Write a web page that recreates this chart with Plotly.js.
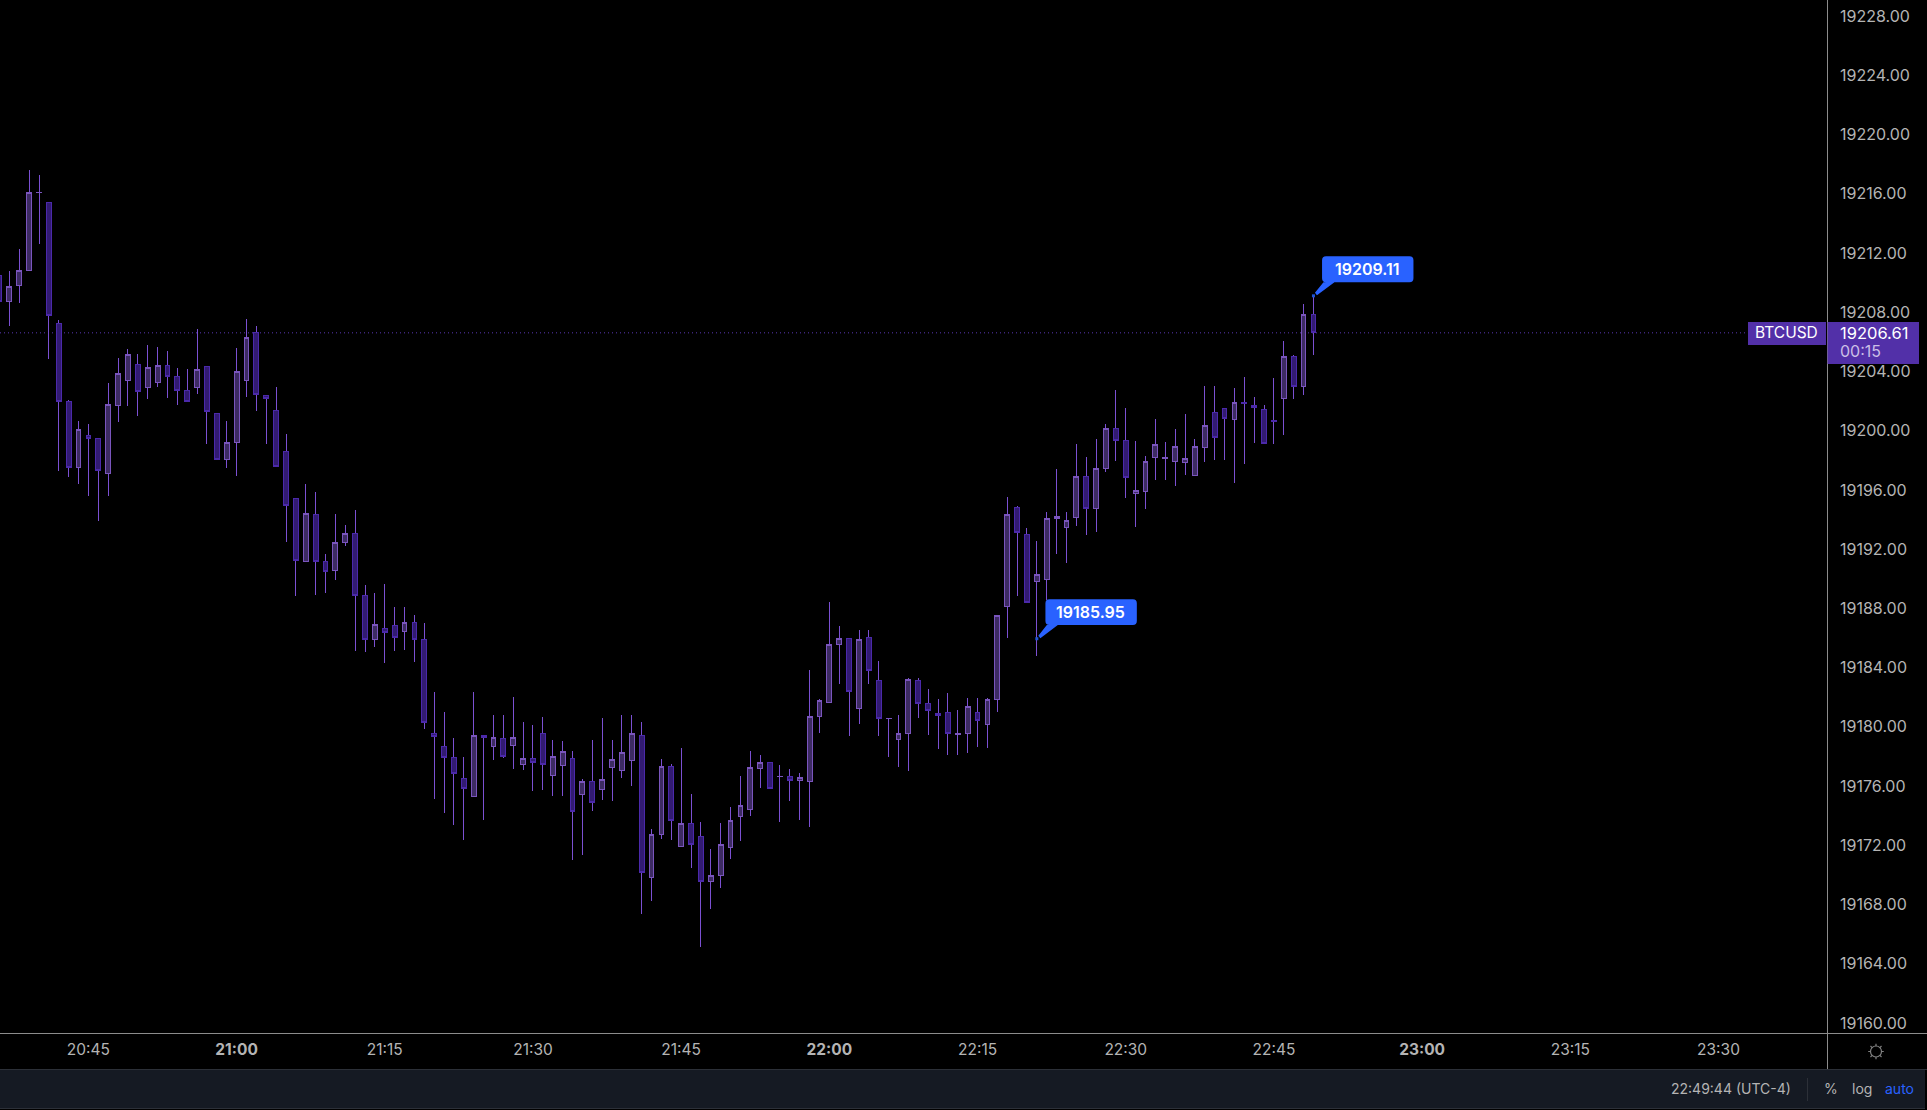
<!DOCTYPE html>
<html>
<head>
<meta charset="utf-8">
<script src="https://cdn.plot.ly/plotly-3.0.1.min.js"></script>
<style>
html,body{margin:0;padding:0;background:#000;overflow:hidden}
#chart{width:1927px;height:1110px}
.boxlayer path{shape-rendering:crispEdges}
</style>
</head>
<body>
<div id="chart"></div>
<script>
const candleTimes = [
"20:36","20:37","20:38","20:39","20:40","20:41","20:42","20:43","20:44","20:45",
"20:46","20:47","20:48","20:49","20:50","20:51","20:52","20:53","20:54","20:55",
"20:56","20:57","20:58","20:59","21:00","21:01","21:02","21:03","21:04","21:05",
"21:06","21:07","21:08","21:09","21:10","21:11","21:12","21:13","21:14","21:15",
"21:16","21:17","21:18","21:19","21:20","21:21","21:22","21:23","21:24","21:25",
"21:26","21:27","21:28","21:29","21:30","21:31","21:32","21:33","21:34","21:35",
"21:36","21:37","21:38","21:39","21:40","21:41","21:42","21:43","21:44","21:45",
"21:46","21:47","21:48","21:49","21:50","21:51","21:52","21:53","21:54","21:55",
"21:56","21:57","21:58","21:59","22:00","22:01","22:02","22:03","22:04","22:05",
"22:06","22:07","22:08","22:09","22:10","22:11","22:12","22:13","22:14","22:15",
"22:16","22:17","22:18","22:19","22:20","22:21","22:22","22:23","22:24","22:25",
"22:26","22:27","22:28","22:29","22:30","22:31","22:32","22:33","22:34","22:35",
"22:36","22:37","22:38","22:39","22:40","22:41","22:42","22:43","22:44","22:45",
"22:46","22:47","22:48","22:49"];

const opens = [
19210.50,19208.72,19209.80,19210.83,19216.08,19215.43,19207.26,19201.99,19197.51,19199.69,
19199.49,19197.11,19201.70,19203.39,19204.49,19202.91,19203.25,19204.42,19203.68,19202.73,
19202.91,19204.35,19201.18,19198.05,19199.20,19203.39,19206.65,19202.39,19201.38,19198.61,
19195.44,19191.16,19194.36,19191.19,19190.56,19192.45,19193.08,19188.89,19185.92,19186.66,
19186.86,19186.46,19187.07,19185.92,19179.57,19178.69,19177.95,19176.53,19175.32,19179.44,
19178.69,19179.23,19178.76,19177.48,19177.88,19179.57,19176.74,19177.41,19177.88,19175.45,
19176.33,19175.79,19177.28,19177.07,19177.75,19179.44,19169.85,19172.75,19177.34,19171.94,
19173.50,19172.62,19169.58,19169.98,19171.87,19173.97,19174.44,19177.21,19177.61,19176.64,
19176.67,19176.40,19176.33,19180.72,19181.66,19185.58,19185.99,19181.26,19186.05,19183.15,
19180.57,19179.16,19179.57,19183.15,19181.60,19180.92,19180.99,19179.50,19179.57,19180.99,
19180.18,19181.87,19188.12,19194.83,19193.01,19189.81,19189.95,19194.09,19193.46,19194.15,
19196.92,19194.74,19197.44,19200.16,19199.35,19195.75,19195.89,19198.18,19198.12,19197.94,
19197.87,19196.97,19198.88,19201.24,19201.51,19200.77,19201.92,19201.72,19201.45,19200.70,
19202.19,19205.03,19203.00,19207.86];

const highs = [
19210.50,19210.79,19212.28,19217.61,19217.27,19215.43,19207.48,19202.08,19200.66,19200.46,
19199.49,19203.23,19204.92,19205.52,19205.19,19205.79,19205.66,19205.39,19204.24,19204.17,
19206.87,19204.35,19201.18,19200.66,19205.59,19207.55,19207.08,19202.39,19202.96,19199.78,
19195.44,19196.41,19195.87,19191.68,19194.38,19193.64,19194.65,19189.59,19189.05,19189.66,
19188.10,19188.10,19187.56,19187.02,19182.36,19181.01,19179.26,19177.97,19182.36,19179.44,
19180.81,19180.81,19182.03,19180.34,19180.14,19180.67,19179.12,19179.05,19178.38,19176.49,
19179.12,19180.61,19179.12,19180.81,19180.81,19180.34,19173.11,19177.84,19177.50,19178.58,
19175.47,19173.59,19171.76,19173.52,19174.60,19176.69,19178.38,19178.11,19177.61,19177.44,
19177.14,19176.87,19183.85,19181.87,19188.44,19186.82,19185.99,19186.55,19186.55,19184.46,
19180.59,19180.81,19183.29,19183.31,19182.56,19181.89,19182.30,19181.15,19181.96,19181.96,
19181.96,19187.54,19195.53,19194.92,19193.43,19192.56,19194.51,19197.42,19194.51,19199.11,
19198.23,19199.44,19200.46,19202.75,19201.54,19199.31,19198.30,19200.79,19199.24,19200.12,
19201.13,19199.44,19203.02,19203.02,19201.51,19202.89,19203.63,19202.28,19201.74,19203.56,
19206.06,19205.12,19208.56,19209.11];

const lows = [
19208.72,19207.08,19208.63,19210.83,19212.61,19204.85,19197.29,19196.88,19196.41,19195.60,
19193.91,19195.60,19200.59,19201.67,19201.00,19202.15,19202.96,19202.21,19201.74,19201.97,
19202.48,19199.11,19198.05,19197.49,19196.95,19202.28,19201.34,19199.11,19197.58,19192.49,
19188.85,19191.16,19188.91,19189.05,19189.93,19192.24,19185.15,19185.02,19185.42,19184.34,
19185.09,19185.20,19184.39,19179.87,19175.14,19174.19,19173.38,19172.37,19175.32,19173.72,
19177.77,19177.91,19177.16,19177.09,19175.68,19175.75,19175.34,19175.34,19171.02,19171.36,
19174.33,19175.07,19175.00,19176.55,19176.02,19167.37,19168.25,19172.44,19172.37,19171.94,
19170.48,19165.15,19167.71,19169.13,19171.09,19172.30,19173.99,19175.88,19175.86,19173.59,
19175.00,19173.72,19173.25,19179.60,19181.66,19182.90,19179.39,19180.20,19182.90,19179.39,
19177.97,19177.30,19177.03,19180.61,19179.46,19178.51,19178.11,19178.11,19178.24,19178.65,
19178.58,19181.01,19186.01,19188.84,19188.39,19184.79,19188.57,19191.68,19191.07,19193.57,
19192.96,19193.16,19197.22,19197.96,19195.46,19193.50,19194.72,19196.68,19196.68,19196.27,
19197.01,19196.97,19197.89,19198.03,19198.03,19196.47,19197.76,19199.17,19199.15,19199.11,
19199.71,19202.14,19202.41,19205.12];

const closes = [
19208.72,19209.75,19210.83,19216.10,19216.10,19207.77,19201.97,19197.51,19200.10,19199.47,
19197.31,19201.79,19203.88,19205.16,19202.64,19204.29,19204.42,19203.66,19202.71,19201.97,
19204.15,19201.29,19198.05,19199.22,19204.02,19206.31,19202.44,19202.17,19197.58,19194.95,
19191.23,19194.43,19191.16,19190.49,19192.47,19193.08,19188.87,19185.92,19186.93,19186.37,
19186.05,19187.07,19185.92,19180.32,19179.35,19177.95,19176.87,19175.84,19179.44,19179.28,
19179.30,19178.00,19179.30,19177.88,19177.61,19177.48,19178.02,19178.36,19174.31,19176.33,
19174.91,19176.46,19177.81,19178.29,19179.57,19170.19,19172.75,19177.34,19173.70,19173.50,
19172.07,19169.58,19169.98,19172.07,19173.70,19174.71,19177.28,19177.61,19175.86,19176.67,
19176.40,19176.60,19180.72,19181.80,19185.58,19185.99,19182.41,19185.92,19183.83,19180.59,
19180.59,19179.57,19183.22,19181.60,19181.13,19180.79,19179.57,19179.57,19181.39,19180.45,
19181.87,19187.54,19194.36,19193.12,19188.39,19190.31,19194.09,19194.22,19193.95,19196.92,
19194.74,19197.46,19200.16,19199.33,19196.83,19195.98,19197.94,19199.08,19198.21,19198.95,
19198.14,19198.95,19200.37,19199.53,19200.82,19201.92,19201.83,19201.58,19199.15,19200.61,
19205.03,19203.00,19207.86,19206.61];

const tickTimes = ["20:45","21:00","21:15","21:30","21:45","22:00","22:15","22:30","22:45","23:00","23:15","23:30"];
const tickLabels = ["20:45","<b>21:00</b>","21:15","21:30","21:45","<b>22:00</b>","22:15","22:30","22:45","<b>23:00</b>","23:15","23:30"];
const lastPrice = 19206.61, lastTime = "22:49";
const highMark = {time:"22:49", price:19209.11};
const lowMark = {time:"22:21", price:19185.95};
const symbol = "BTCUSD", countdown = "00:15", clock = "22:49:44 (UTC-4)";

const day = "2022-10-05 ";
const stamp = t => day + t + ":00";
const xs = candleTimes.map(stamp);

const W = 1927, H = 1110, axisX = 1828, axisY = 1033;
const px = v => v / axisX, py = v => 1 - v / axisY;

const wickColor = "#7b50d2";
const upFill = "#3d2b63", upLine = "#7a55bd";
const downFill = "#321b72", downLine = "#4b29aa";
const purple = "#5230a8", blue = "#2962ff";
const gridText = "#b4b4b4";

const wicks = {
  type:"candlestick", x:xs, open:opens, high:highs, low:lows, close:closes,
  increasing:{line:{color:wickColor,width:1},fillcolor:upFill},
  decreasing:{line:{color:wickColor,width:1},fillcolor:downFill},
  whiskerwidth:0, hoverinfo:"skip", showlegend:false
};
const bodies = {
  type:"candlestick", x:xs, open:opens, close:closes,
  high:opens.map((o,i)=>Math.max(o,closes[i])),
  low:opens.map((o,i)=>Math.min(o,closes[i])),
  increasing:{line:{color:upLine,width:1},fillcolor:upFill},
  decreasing:{line:{color:downLine,width:1},fillcolor:downFill},
  whiskerwidth:0, hoverinfo:"skip", showlegend:false
};

// rounded callout with a tail, in pixels from its anchor (up is positive)
function calloutPath(){
  const l=8.6,r=100,t=39.5,b=13.6,c=4;
  return `M${l+c},${t} L${r-c},${t} Q${r},${t} ${r},${t-c} L${r},${b+c} Q${r},${b} ${r-c},${b} `+
         `L21,${b} L3.5,0.5 L1.5,3 L10,${b} L${l+c},${b} Q${l},${b} ${l},${b+c} L${l},${t-c} Q${l},${t} ${l+c},${t} Z`;
}
function callout(m){
  return {type:"path",layer:"above",xref:"x",yref:"y",xsizemode:"pixel",ysizemode:"pixel",
    xanchor:stamp(m.time),yanchor:m.price,path:calloutPath(),fillcolor:blue,line:{width:0}};
}
function dot(m){
  return {type:"path",layer:"above",xref:"x",yref:"y",xsizemode:"pixel",ysizemode:"pixel",
    xanchor:stamp(m.time),yanchor:m.price,path:"M-1.5,-1.5 L1.5,-1.5 L1.5,1.5 L-1.5,1.5 Z",fillcolor:"#1f55d8",line:{width:0}};
}
function calloutText(m){
  return {xref:"x",yref:"y",x:stamp(m.time),y:m.price,xanchor:"center",yanchor:"middle",
    xshift:54,yshift:27,showarrow:false,text:m.price.toFixed(2),
    font:{family:"Inter",size:16,color:"#ffffff",weight:600}};
}
function statusText(text,cx,color,anchor){
  return {xref:"paper",yref:"paper",x:px(cx),y:py(1088.5),xanchor:anchor||"center",yanchor:"middle",
    showarrow:false,text:text,font:{family:"Inter",size:14,color:color||"#b4b4b4"}};
}

// settings glyph: ring and eight short rays
let rays = "";
for(let a=0;a<8;a++){
  const t=a*Math.PI/4, c=Math.cos(t), s=Math.sin(t);
  rays += `M${(5.5*c).toFixed(2)},${(5.5*s).toFixed(2)} L${(7.8*c).toFixed(2)},${(7.8*s).toFixed(2)} `;
}

const shapes = [
  {type:"line",layer:"below",xref:"paper",yref:"y",x0:0,x1:px(1748),y0:lastPrice,y1:lastPrice,
   line:{color:"#5a38b4",width:1,dash:"1px,3px"}},
  {type:"rect",layer:"above",xref:"paper",yref:"paper",x0:0,x1:px(1925),y0:py(1069),y1:py(1108),
   fillcolor:"#151a23",line:{width:0}},
  {type:"line",layer:"above",xref:"paper",yref:"paper",x0:0,x1:px(W),y0:py(1069.5),y1:py(1069.5),
   line:{color:"#2c3038",width:1}},
  {type:"line",layer:"above",xref:"paper",yref:"paper",x0:0,x1:px(1925),y0:py(1108.5),y1:py(1108.5),
   line:{color:"#2c3038",width:1}},
  {type:"line",layer:"above",xref:"paper",yref:"paper",x0:0,x1:px(W),y0:py(1033.5),y1:py(1033.5),
   line:{color:"#8c8c8c",width:1}},
  {type:"line",layer:"above",xref:"paper",yref:"paper",x0:px(1827.5),x1:px(1827.5),y0:py(0),y1:py(1069),
   line:{color:"#8c8c8c",width:1}},
  {type:"line",layer:"above",xref:"paper",yref:"paper",x0:px(1807.5),x1:px(1807.5),y0:py(1078),y1:py(1101),
   line:{color:"#2c3038",width:1}},
  {type:"circle",layer:"above",xref:"paper",yref:"paper",xsizemode:"pixel",ysizemode:"pixel",
   xanchor:px(1876),yanchor:py(1051.5),x0:-5.5,x1:5.5,y0:-5.5,y1:5.5,line:{color:"#808080",width:1.2}},
  {type:"path",layer:"above",xref:"paper",yref:"paper",xsizemode:"pixel",ysizemode:"pixel",
   xanchor:px(1876),yanchor:py(1051.5),path:rays,line:{color:"#808080",width:1.2}},
  {type:"rect",layer:"above",xref:"paper",yref:"paper",x0:px(1748),x1:px(1826),y0:py(322),y1:py(345),
   fillcolor:purple,line:{width:0}},
  {type:"rect",layer:"above",xref:"paper",yref:"paper",x0:px(1827.5),x1:px(1919),y0:py(322),y1:py(364),
   fillcolor:purple,line:{width:0}},
  callout(highMark),dot(highMark),callout(lowMark),dot(lowMark)
];

const annotations = [
  calloutText(highMark),calloutText(lowMark),
  {xref:"paper",yref:"paper",x:px(1786),y:py(332.5),xanchor:"center",yanchor:"middle",showarrow:false,
   text:symbol,font:{family:"Inter",size:15.5,color:"#ffffff"}},
  {xref:"paper",yref:"paper",x:px(1838),y:py(332.5),xanchor:"left",yanchor:"middle",showarrow:false,
   text:lastPrice.toFixed(2),font:{family:"Inter",size:16.5,color:"#ffffff"}},
  {xref:"paper",yref:"paper",x:px(1838),y:py(351),xanchor:"left",yanchor:"middle",showarrow:false,
   text:countdown,font:{family:"Inter",size:16,color:"#cbbfe6"}},
  statusText(clock,1731),
  statusText("%",1830.7),
  statusText("log",1861.7),
  statusText("auto",1899.3,"#2962ff")
];

const layout = {
  width:W,height:H,margin:{l:0,r:W-axisX,t:0,b:H-axisY,pad:0},
  paper_bgcolor:"#000000",plot_bgcolor:"#000000",showlegend:false,dragmode:false,
  boxmode:"overlay",
  xaxis:{type:"date",range:[day+"20:36:03",day+"23:41:05"],rangeslider:{visible:false},
    tickmode:"array",tickvals:tickTimes.map(stamp),ticktext:tickLabels,
    showgrid:false,zeroline:false,showline:false,ticks:"",ticklabelstandoff:5,
    tickfont:{family:"Inter",size:15.5,color:gridText}},
  yaxis:{side:"right",range:[19159.32,19229.09],tick0:19160,dtick:4,tickformat:".2f",
    showgrid:false,zeroline:false,showline:false,ticks:"",ticklabelstandoff:11,
    tickfont:{family:"Inter",size:16,color:gridText}},
  shapes:shapes,annotations:annotations
};

Plotly.newPlot("chart",[wicks,bodies],layout,{displayModeBar:false,staticPlot:true});
</script>
</body>
</html>
